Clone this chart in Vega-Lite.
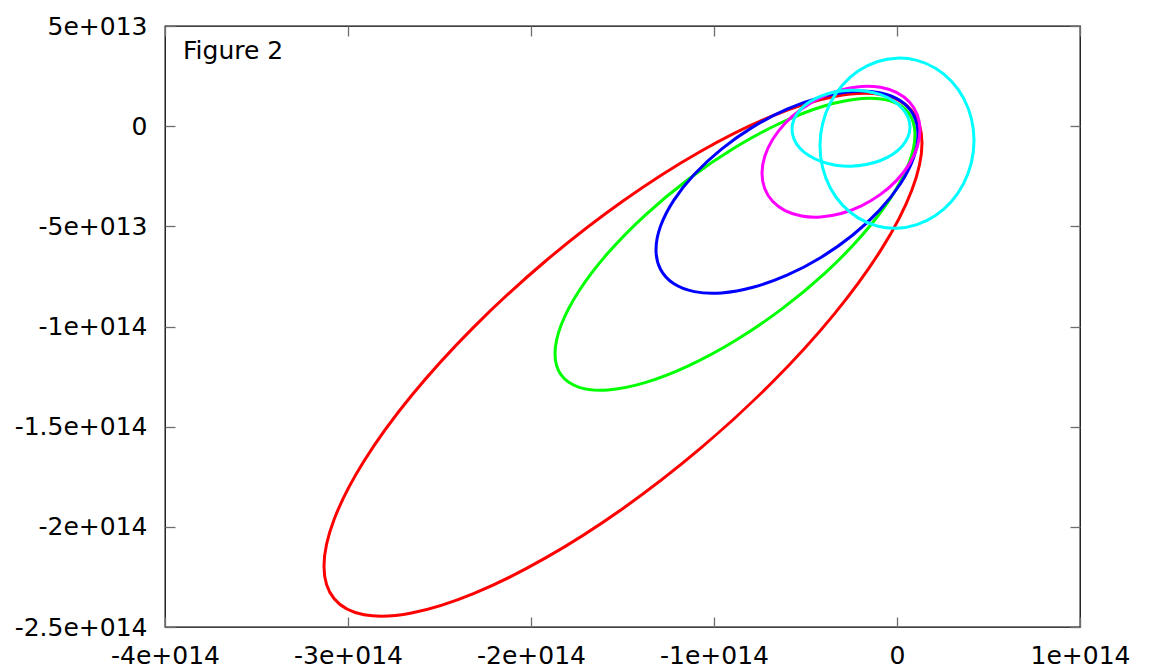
{
"$schema": "https://vega.github.io/schema/vega-lite/v6.json",
"width": 915, "height": 601,
"autosize": {"type": "none"},
"padding": {"left": 165, "top": 26, "right": 70, "bottom": 44},
"background": "white",
"config": {
  "view": {"stroke": "#000", "strokeWidth": 1.3},
  "font": "DejaVu Sans",
  "axis": {"labelFont": "DejaVu Sans", "labelFontSize": 25, "labelColor": "#000", "grid": false, "domain": false, "tickColor": "#6e6e6e", "tickWidth": 1.3, "tickSize": -10, "title": null, "labelFlush": false, "labelOverlap": false}
},
"data": {"values": [
{"s":"s1","i":0,"x":0.1366e14,"y":-0.0849e14},{"s":"s1","i":1,"x":0.0809e14,"y":0.0777e14},{"s":"s1","i":2,"x":-0.0823e14,"y":0.1573e14},{"s":"s1","i":3,"x":-0.3420e14,"y":0.1484e14},{"s":"s1","i":4,"x":-0.6803e14,"y":0.0517e14},{"s":"s1","i":5,"x":-1.0744e14,"y":-0.1264e14},{"s":"s1","i":6,"x":-1.4973e14,"y":-0.3735e14},{"s":"s1","i":7,"x":-1.9202e14,"y":-0.6730e14},{"s":"s1","i":8,"x":-2.3143e14,"y":-1.0043e14},{"s":"s1","i":9,"x":-2.6526e14,"y":-1.3448e14},{"s":"s1","i":10,"x":-2.9123e14,"y":-1.6715e14},{"s":"s1","i":11,"x":-3.0755e14,"y":-1.9621e14},{"s":"s1","i":12,"x":-3.1312e14,"y":-2.1967e14},{"s":"s1","i":13,"x":-3.0755e14,"y":-2.3593e14},{"s":"s1","i":14,"x":-2.9123e14,"y":-2.4389e14},{"s":"s1","i":15,"x":-2.6526e14,"y":-2.4300e14},{"s":"s1","i":16,"x":-2.3143e14,"y":-2.3333e14},{"s":"s1","i":17,"x":-1.9202e14,"y":-2.1552e14},{"s":"s1","i":18,"x":-1.4973e14,"y":-1.9081e14},{"s":"s1","i":19,"x":-1.0744e14,"y":-1.6086e14},{"s":"s1","i":20,"x":-0.6803e14,"y":-1.2773e14},{"s":"s1","i":21,"x":-0.3420e14,"y":-0.9368e14},{"s":"s1","i":22,"x":-0.0823e14,"y":-0.6101e14},{"s":"s1","i":23,"x":0.0809e14,"y":-0.3195e14},
{"s":"s2","i":0,"x":0.0984e14,"y":-0.0424e14},{"s":"s2","i":1,"x":0.0649e14,"y":0.0638e14},{"s":"s2","i":2,"x":-0.0334e14,"y":0.1255e14},{"s":"s2","i":3,"x":-0.1897e14,"y":0.1385e14},{"s":"s2","i":4,"x":-0.3934e14,"y":0.1020e14},{"s":"s2","i":5,"x":-0.6306e14,"y":0.0183e14},{"s":"s2","i":6,"x":-0.8852e14,"y":-0.1068e14},{"s":"s2","i":7,"x":-1.1398e14,"y":-0.2647e14},{"s":"s2","i":8,"x":-1.3770e14,"y":-0.4448e14},{"s":"s2","i":9,"x":-1.5807e14,"y":-0.6347e14},{"s":"s2","i":10,"x":-1.7370e14,"y":-0.8213e14},{"s":"s2","i":11,"x":-1.8353e14,"y":-0.9924e14},{"s":"s2","i":12,"x":-1.8688e14,"y":-1.1358e14},{"s":"s2","i":13,"x":-1.8353e14,"y":-1.2420e14},{"s":"s2","i":14,"x":-1.7370e14,"y":-1.3037e14},{"s":"s2","i":15,"x":-1.5807e14,"y":-1.3167e14},{"s":"s2","i":16,"x":-1.3770e14,"y":-1.2802e14},{"s":"s2","i":17,"x":-1.1398e14,"y":-1.1965e14},{"s":"s2","i":18,"x":-0.8852e14,"y":-1.0714e14},{"s":"s2","i":19,"x":-0.6306e14,"y":-0.9135e14},{"s":"s2","i":20,"x":-0.3934e14,"y":-0.7334e14},{"s":"s2","i":21,"x":-0.1897e14,"y":-0.5435e14},{"s":"s2","i":22,"x":-0.0334e14,"y":-0.3569e14},{"s":"s2","i":23,"x":0.0649e14,"y":-0.1858e14},
{"s":"s3","i":0,"x":0.1147e14,"y":-0.0419e14},{"s":"s3","i":1,"x":0.0903e14,"y":0.0555e14},{"s":"s3","i":2,"x":0.0188e14,"y":0.1268e14},{"s":"s3","i":3,"x":-0.0950e14,"y":0.1669e14},{"s":"s3","i":4,"x":-0.2432e14,"y":0.1732e14},{"s":"s3","i":5,"x":-0.4158e14,"y":0.1452e14},{"s":"s3","i":6,"x":-0.6011e14,"y":0.0849e14},{"s":"s3","i":7,"x":-0.7864e14,"y":-0.0036e14},{"s":"s3","i":8,"x":-0.9590e14,"y":-0.1144e14},{"s":"s3","i":9,"x":-1.1072e14,"y":-0.2399e14},{"s":"s3","i":10,"x":-1.2210e14,"y":-0.3714e14},{"s":"s3","i":11,"x":-1.2925e14,"y":-0.5001e14},{"s":"s3","i":12,"x":-1.3169e14,"y":-0.6171e14},{"s":"s3","i":13,"x":-1.2925e14,"y":-0.7145e14},{"s":"s3","i":14,"x":-1.2210e14,"y":-0.7858e14},{"s":"s3","i":15,"x":-1.1072e14,"y":-0.8259e14},{"s":"s3","i":16,"x":-0.9590e14,"y":-0.8322e14},{"s":"s3","i":17,"x":-0.7864e14,"y":-0.8042e14},{"s":"s3","i":18,"x":-0.6011e14,"y":-0.7439e14},{"s":"s3","i":19,"x":-0.4158e14,"y":-0.6554e14},{"s":"s3","i":20,"x":-0.2432e14,"y":-0.5446e14},{"s":"s3","i":21,"x":-0.0950e14,"y":-0.4191e14},{"s":"s3","i":22,"x":0.0188e14,"y":-0.2876e14},{"s":"s3","i":23,"x":0.0903e14,"y":-0.1589e14},
{"s":"s4","i":0,"x":0.1257e14,"y":-0.0195e14},{"s":"s4","i":1,"x":0.1110e14,"y":0.0566e14},{"s":"s4","i":2,"x":0.0679e14,"y":0.1204e14},{"s":"s4","i":3,"x":-0.0007e14,"y":0.1670e14},{"s":"s4","i":4,"x":-0.0901e14,"y":0.1938e14},{"s":"s4","i":5,"x":-0.1943e14,"y":0.1986e14},{"s":"s4","i":6,"x":-0.3060e14,"y":0.1812e14},{"s":"s4","i":7,"x":-0.4177e14,"y":0.1428e14},{"s":"s4","i":8,"x":-0.5219e14,"y":0.0860e14},{"s":"s4","i":9,"x":-0.6113e14,"y":0.0146e14},{"s":"s4","i":10,"x":-0.6799e14,"y":-0.0664e14},{"s":"s4","i":11,"x":-0.7230e14,"y":-0.1516e14},{"s":"s4","i":12,"x":-0.7377e14,"y":-0.2351e14},{"s":"s4","i":13,"x":-0.7230e14,"y":-0.3112e14},{"s":"s4","i":14,"x":-0.6799e14,"y":-0.3750e14},{"s":"s4","i":15,"x":-0.6113e14,"y":-0.4216e14},{"s":"s4","i":16,"x":-0.5219e14,"y":-0.4484e14},{"s":"s4","i":17,"x":-0.4177e14,"y":-0.4532e14},{"s":"s4","i":18,"x":-0.3060e14,"y":-0.4358e14},{"s":"s4","i":19,"x":-0.1943e14,"y":-0.3974e14},{"s":"s4","i":20,"x":-0.0901e14,"y":-0.3406e14},{"s":"s4","i":21,"x":-0.0007e14,"y":-0.2692e14},{"s":"s4","i":22,"x":0.0679e14,"y":-0.1882e14},{"s":"s4","i":23,"x":0.1110e14,"y":-0.1030e14},
{"s":"s5","i":0,"x":0.4208e14,"y":-0.0719e14},{"s":"s5","i":1,"x":0.4065e14,"y":0.0375e14},{"s":"s5","i":2,"x":0.3644e14,"y":0.1386e14},{"s":"s5","i":3,"x":0.2976e14,"y":0.2244e14},{"s":"s5","i":4,"x":0.2104e14,"y":0.2891e14},{"s":"s5","i":5,"x":0.1089e14,"y":0.3284e14},{"s":"s5","i":6,"x":0,"y":0.3395e14},{"s":"s5","i":7,"x":-0.1089e14,"y":0.3216e14},{"s":"s5","i":8,"x":-0.2104e14,"y":0.2761e14},{"s":"s5","i":9,"x":-0.2976e14,"y":0.2060e14},{"s":"s5","i":10,"x":-0.3644e14,"y":0.1160e14},{"s":"s5","i":11,"x":-0.4065e14,"y":0.0123e14},{"s":"s5","i":12,"x":-0.4208e14,"y":-0.0979e14},{"s":"s5","i":13,"x":-0.4065e14,"y":-0.2073e14},{"s":"s5","i":14,"x":-0.3644e14,"y":-0.3084e14},{"s":"s5","i":15,"x":-0.2976e14,"y":-0.3942e14},{"s":"s5","i":16,"x":-0.2104e14,"y":-0.4589e14},{"s":"s5","i":17,"x":-0.1089e14,"y":-0.4982e14},{"s":"s5","i":18,"x":0,"y":-0.5093e14},{"s":"s5","i":19,"x":0.1089e14,"y":-0.4914e14},{"s":"s5","i":20,"x":0.2104e14,"y":-0.4459e14},{"s":"s5","i":21,"x":0.2976e14,"y":-0.3758e14},{"s":"s5","i":22,"x":0.3644e14,"y":-0.2858e14},{"s":"s5","i":23,"x":0.4065e14,"y":-0.1821e14},
{"s":"s6","i":0,"x":0.0710e14,"y":-0.0043e14},{"s":"s6","i":1,"x":0.0600e14,"y":0.0446e14},{"s":"s6","i":2,"x":0.0278e14,"y":0.0898e14},{"s":"s6","i":3,"x":-0.0234e14,"y":0.1281e14},{"s":"s6","i":4,"x":-0.0902e14,"y":0.1572e14},{"s":"s6","i":5,"x":-0.1680e14,"y":0.1747e14},{"s":"s6","i":6,"x":-0.2514e14,"y":0.1797e14},{"s":"s6","i":7,"x":-0.3348e14,"y":0.1717e14},{"s":"s6","i":8,"x":-0.4126e14,"y":0.1514e14},{"s":"s6","i":9,"x":-0.4794e14,"y":0.1201e14},{"s":"s6","i":10,"x":-0.5306e14,"y":0.0800e14},{"s":"s6","i":11,"x":-0.5628e14,"y":0.0336e14},{"s":"s6","i":12,"x":-0.5738e14,"y":-0.0157e14},{"s":"s6","i":13,"x":-0.5628e14,"y":-0.0646e14},{"s":"s6","i":14,"x":-0.5306e14,"y":-0.1098e14},{"s":"s6","i":15,"x":-0.4794e14,"y":-0.1481e14},{"s":"s6","i":16,"x":-0.4126e14,"y":-0.1772e14},{"s":"s6","i":17,"x":-0.3348e14,"y":-0.1947e14},{"s":"s6","i":18,"x":-0.2514e14,"y":-0.1997e14},{"s":"s6","i":19,"x":-0.1680e14,"y":-0.1917e14},{"s":"s6","i":20,"x":-0.0902e14,"y":-0.1714e14},{"s":"s6","i":21,"x":-0.0234e14,"y":-0.1401e14},{"s":"s6","i":22,"x":0.0278e14,"y":-0.1000e14},{"s":"s6","i":23,"x":0.0600e14,"y":-0.0536e14}
]},
"layer": [
  {"mark": {"type": "line", "interpolate": "cardinal-closed", "strokeWidth": 3},
   "encoding": {
     "x": {"field": "x", "type": "quantitative", "scale": {"domain": [-4e14, 1e14], "nice": false, "zero": false},
           "axis": {"orient": "bottom", "values": [-4e14, -3e14, -2e14, -1e14, 0, 1e14], "labelPadding": 26,
                    "labelExpr": "datum.value == 0 ? '0' : (abs(datum.value) >= 1e14 ? (datum.value/1e14) + 'e+014' : (datum.value/1e13) + 'e+013')"}},
     "y": {"field": "y", "type": "quantitative", "scale": {"domain": [-2.5e14, 5e13], "nice": false, "zero": false},
           "axis": {"orient": "left", "values": [5e13, 0, -5e13, -1e14, -1.5e14, -2e14, -2.5e14], "labelPadding": 28,
                    "labelExpr": "datum.value == 0 ? '0' : (abs(datum.value) >= 1e14 ? (datum.value/1e14) + 'e+014' : (datum.value/1e13) + 'e+013')"}},
     "color": {"field": "s", "type": "nominal", "scale": {"domain": ["s1", "s2", "s3", "s4", "s5", "s6"], "range": ["#ff0000", "#00ff00", "#0000ff", "#ff00ff", "#00ffff", "#00ffff"]}, "legend": null},
     "order": {"field": "i", "type": "quantitative"}
   }},
  {"mark": {"type": "point", "opacity": 0},
   "encoding": {
     "x": {"field": "x", "type": "quantitative", "axis": {"orient": "top", "labels": false, "values": [-4e14, -3e14, -2e14, -1e14, 0, 1e14]}},
     "y": {"field": "y", "type": "quantitative", "axis": {"orient": "right", "labels": false, "values": [5e13, 0, -5e13, -1e14, -1.5e14, -2e14, -2.5e14]}}
   }},
  {"data": {"values": [{"label": "Figure 2"}]},
   "mark": {"type": "text", "align": "left", "baseline": "alphabetic", "dx": 18, "dy": 33, "fontSize": 25, "font": "DejaVu Sans", "color": "#000"},
   "encoding": {
     "text": {"field": "label"},
     "x": {"datum": -4e14, "type": "quantitative", "axis": null},
     "y": {"datum": 5e13, "type": "quantitative", "axis": null}
   }}
],
"resolve": {"axis": {"x": "independent", "y": "independent"}}
}
